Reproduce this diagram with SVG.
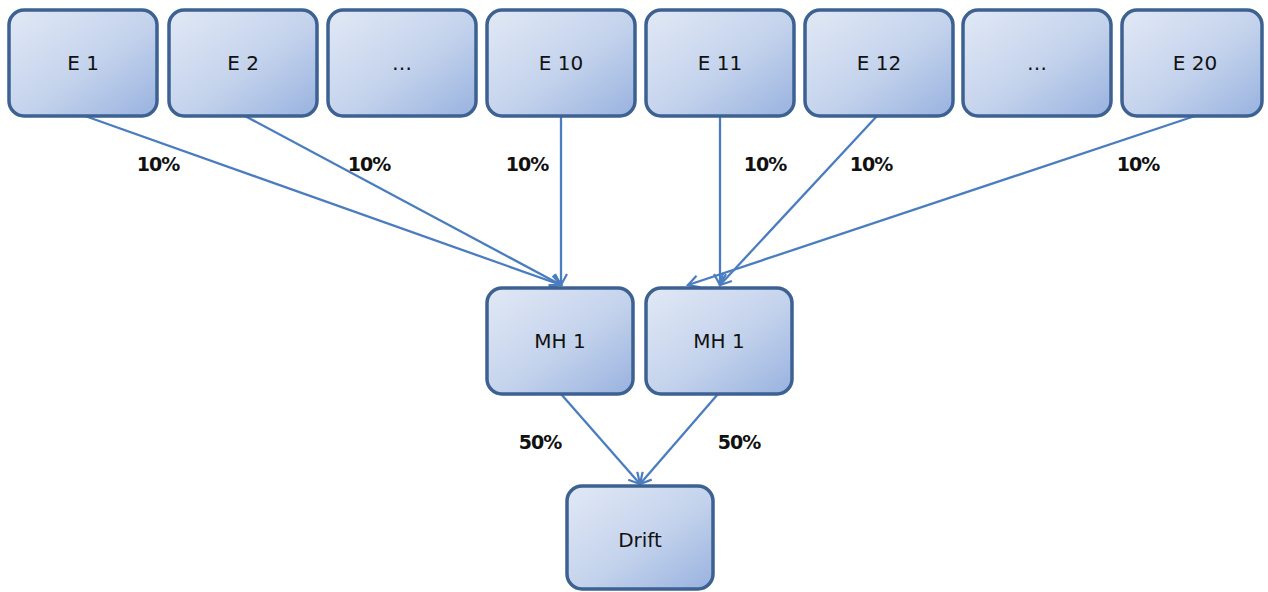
<svg xmlns="http://www.w3.org/2000/svg" width="1268" height="592" viewBox="0 0 1268 592">
<defs>
<linearGradient id="g" x1="0" y1="0" x2="1" y2="1">
<stop offset="0" stop-color="#e2e9f5"/>
<stop offset="0.55" stop-color="#c3d2ec"/>
<stop offset="1" stop-color="#98b2df"/>
</linearGradient>
<marker id="arr" viewBox="0 0 14 14" refX="12" refY="7" markerWidth="14" markerHeight="14" markerUnits="userSpaceOnUse" orient="auto">
<path d="M1,1 L12,7 L1,13" fill="none" stroke="#4a7dc0" stroke-width="2.2"/>
</marker>
</defs>
<style>
.box{fill:url(#g);stroke:#3d6292;stroke-width:3.5}
.nt{font-family:"DejaVu Sans",sans-serif;font-size:20px;fill:#111;text-anchor:middle}
.lb{font-family:"DejaVu Sans",sans-serif;font-size:19px;font-weight:bold;fill:#111;text-anchor:middle;letter-spacing:-1px}
.c{stroke:#4a7dc0;stroke-width:2.3;fill:none;marker-end:url(#arr)}
</style>
<g id="connectors">
<line class="c" x1="85" y1="116" x2="561" y2="285"/>
<line class="c" x1="245" y1="116" x2="561" y2="285"/>
<line class="c" x1="561" y1="116" x2="561" y2="285"/>
<line class="c" x1="720" y1="116" x2="720" y2="285"/>
<line class="c" x1="877" y1="116" x2="720" y2="285"/>
<line class="c" x1="1195" y1="116" x2="688" y2="285"/>
<line class="c" x1="561" y1="394" x2="640" y2="484"/>
<line class="c" x1="718" y1="394" x2="640" y2="484"/>
<text class="lb" x="158" y="171">10%</text>
<text class="lb" x="369" y="171">10%</text>
<text class="lb" x="527" y="171">10%</text>
<text class="lb" x="765" y="171">10%</text>
<text class="lb" x="871" y="171">10%</text>
<text class="lb" x="1138" y="171">10%</text>
<text class="lb" x="540" y="449">50%</text>
<text class="lb" x="739" y="449">50%</text>
</g>
<g id="e1"><rect class="box" x="9" y="10" width="148" height="106" rx="15"/><text class="nt" x="83" y="70">E 1</text></g>
<g id="e2"><rect class="box" x="169" y="10" width="148" height="106" rx="15"/><text class="nt" x="243" y="70">E 2</text></g>
<g id="e3"><rect class="box" x="328" y="10" width="148" height="106" rx="15"/><text class="nt" x="402" y="70">…</text></g>
<g id="e10"><rect class="box" x="487" y="10" width="148" height="106" rx="15"/><text class="nt" x="561" y="70">E 10</text></g>
<g id="e11"><rect class="box" x="646" y="10" width="148" height="106" rx="15"/><text class="nt" x="720" y="70">E 11</text></g>
<g id="e12"><rect class="box" x="805" y="10" width="148" height="106" rx="15"/><text class="nt" x="879" y="70">E 12</text></g>
<g id="e13"><rect class="box" x="963" y="10" width="148" height="106" rx="15"/><text class="nt" x="1037" y="70">…</text></g>
<g id="e20"><rect class="box" x="1122" y="10" width="140" height="106" rx="15"/><text class="nt" x="1195" y="70">E 20</text></g>
<g id="mh1a"><rect class="box" x="487" y="288" width="146" height="106" rx="15"/><text class="nt" x="560" y="348">MH 1</text></g>
<g id="mh1b"><rect class="box" x="646" y="288" width="146" height="106" rx="15"/><text class="nt" x="719" y="348">MH 1</text></g>
<g id="drift"><rect class="box" x="567" y="486" width="146" height="103" rx="15"/><text class="nt" x="640" y="547">Drift</text></g>
</svg>
